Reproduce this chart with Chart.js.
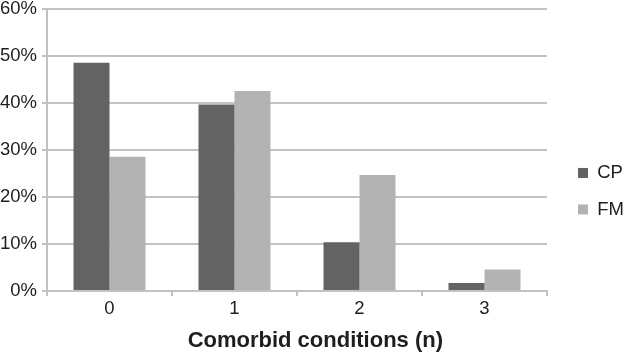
<!DOCTYPE html>
<html>
<head>
<meta charset="utf-8">
<script src="https://cdn.jsdelivr.net/npm/chart.js@4/dist/chart.umd.min.js"></script>
<style>
  html, body { margin: 0; padding: 0; background: #ffffff; }
  #wrap { width: 624px; height: 354px; }
</style>
</head>
<body>
<div id="wrap"><canvas id="c" width="624" height="354"></canvas></div>
<script>
const categories = ['0', '1', '2', '3'];
const cpValues = [48.6, 39.7, 10.4, 1.7];
const fmValues = [28.6, 42.6, 24.7, 4.6];
const seriesNames = ['CP', 'FM'];
const xTitle = 'Comorbid conditions (n)';
const yTicks = [0, 10, 20, 30, 40, 50, 60];

const FONT = "'Liberation Sans', Arial, Helvetica, sans-serif";
const GRID = '#c2c2c2';
const TEXT = '#1e1e1e';

new Chart(document.getElementById('c'), {
  type: 'bar',
  data: {
    labels: categories,
    datasets: [
      { label: seriesNames[0], data: cpValues, backgroundColor: '#636363', borderWidth: 0 },
      { label: seriesNames[1], data: fmValues, backgroundColor: '#b3b3b3', borderWidth: 0 }
    ]
  },
  options: {
    responsive: false,
    animation: false,
    devicePixelRatio: 1,
    layout: { padding: 0 },
    datasets: { bar: { categoryPercentage: 0.576, barPercentage: 1.0 } },
    plugins: {
      tooltip: { enabled: false },
      legend: {
        position: 'right',
        maxWidth: 64,
        title: { display: true, text: ' ', padding: 7, font: { size: 12 } },
        labels: {
          boxWidth: 10,
          boxHeight: 10,
          padding: 18,
          color: TEXT,
          font: { family: FONT, size: 18.5 }
        }
      }
    },
    scales: {
      x: {
        grid: { display: true, drawOnChartArea: false, drawTicks: true, tickLength: 5, color: GRID, lineWidth: 2, offset: true },
        border: { display: true, color: GRID, width: 2 },
        ticks: { color: TEXT, padding: 2, font: { family: FONT, size: 18.5 } },
        title: { display: true, text: '\u00a0\u00a0\u00a0\u00a0\u00a0\u00a0' + xTitle, color: TEXT, padding: { top: 5.4, bottom: 0 }, font: { family: FONT, size: 22, weight: 'bold' } }
      },
      y: {
        min: yTicks[0],
        max: yTicks[yTicks.length - 1],
        afterBuildTicks: (s) => { s.ticks = yTicks.map(v => ({ value: v })); },
        afterFit: (s) => { s.width = 47; },
        grid: { color: GRID, lineWidth: 2, drawTicks: true, tickLength: 5 },
        border: { display: true, color: GRID, width: 2 },
        ticks: { color: TEXT, padding: 5, font: { family: FONT, size: 18.5, lineHeight: 0.46 }, callback: (v) => v + '%' }
      },
      gap: {
        position: 'right',
        display: true,
        grid: { display: false },
        border: { display: false },
        ticks: { display: false },
        afterFit: (s) => { s.width = 13; }
      }
    }
  }
});
</script>
</body>
</html>
